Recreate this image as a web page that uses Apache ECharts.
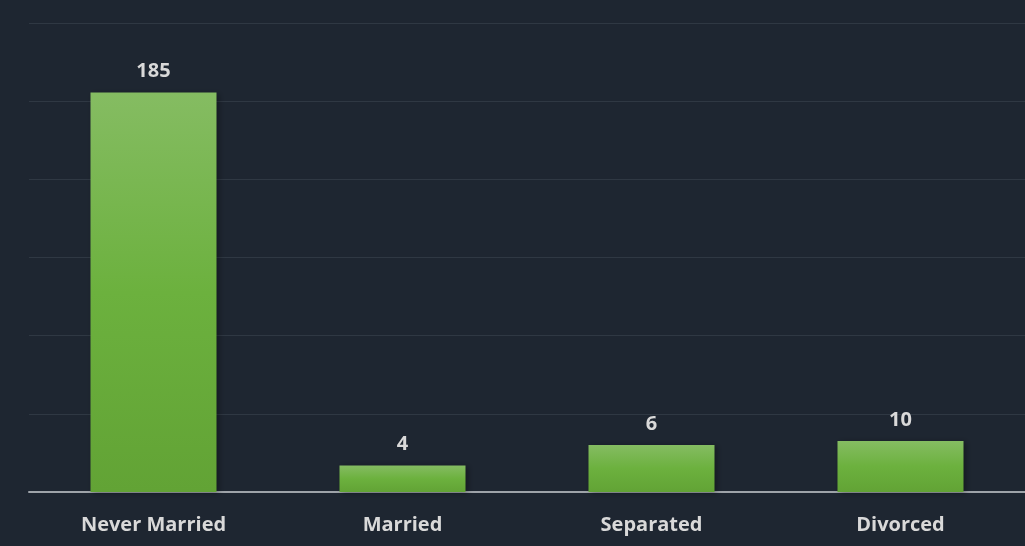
<!DOCTYPE html>
<html>
<head>
<meta charset="utf-8">
<script src="https://cdn.jsdelivr.net/npm/echarts@6/dist/echarts.min.js"></script>
<style>
html,body{margin:0;padding:0;background:#1e2631;}
#chart{width:1025px;height:546px;}
</style>
</head>
<body>
<div id="chart"></div>
<script>
// Categories and the value labels shown above each bar
const categories = ['Never Married', 'Married', 'Separated', 'Divorced'];
const labelValues = [185, 4, 6, 10];
// Bar heights as drawn in the reference, read against the value axis
const barValues = [185, 12.3, 21.8, 23.6];
const axisMax = 217.2;
const axisInterval = 36.2;

const chart = echarts.init(document.getElementById('chart'));
chart.setOption({
  backgroundColor: '#1e2631',
  animation: false,
  grid: { left: 29, right: 0, top: 23, bottom: 54, containLabel: false },
  xAxis: {
    type: 'category',
    data: categories,
    axisTick: { show: false },
    axisLine: { lineStyle: { color: '#9ea3a9', width: 2 } },
    axisLabel: {
      color: '#d9d9d9', fontFamily: 'Open Sans', fontWeight: 'bold', fontSize: 20,
      margin: 21, lineHeight: 24
    }
  },
  yAxis: {
    type: 'value', min: 0, max: axisMax, interval: axisInterval,
    axisLabel: { show: false },
    axisLine: { show: false },
    axisTick: { show: false },
    splitLine: { lineStyle: { color: '#2f3843', width: 1 } }
  },
  series: [{
    type: 'bar',
    data: barValues,
    barWidth: 126,
    itemStyle: {
      color: new echarts.graphic.LinearGradient(0, 0, 0, 1, [
        { offset: 0, color: '#85bc62' },
        { offset: 0.5, color: '#6cb13e' },
        { offset: 1, color: '#62a335' }
      ]),
      shadowColor: 'rgba(0,0,0,0.35)', shadowBlur: 6, shadowOffsetX: 2, shadowOffsetY: 1
    },
    label: {
      show: true, position: 'top', distance: 9,
      color: '#d9d9d9', fontFamily: 'Open Sans', fontWeight: 'bold', fontSize: 20, lineHeight: 24,
      formatter: p => String(labelValues[p.dataIndex])
    }
  }]
});
</script>
</body>
</html>
